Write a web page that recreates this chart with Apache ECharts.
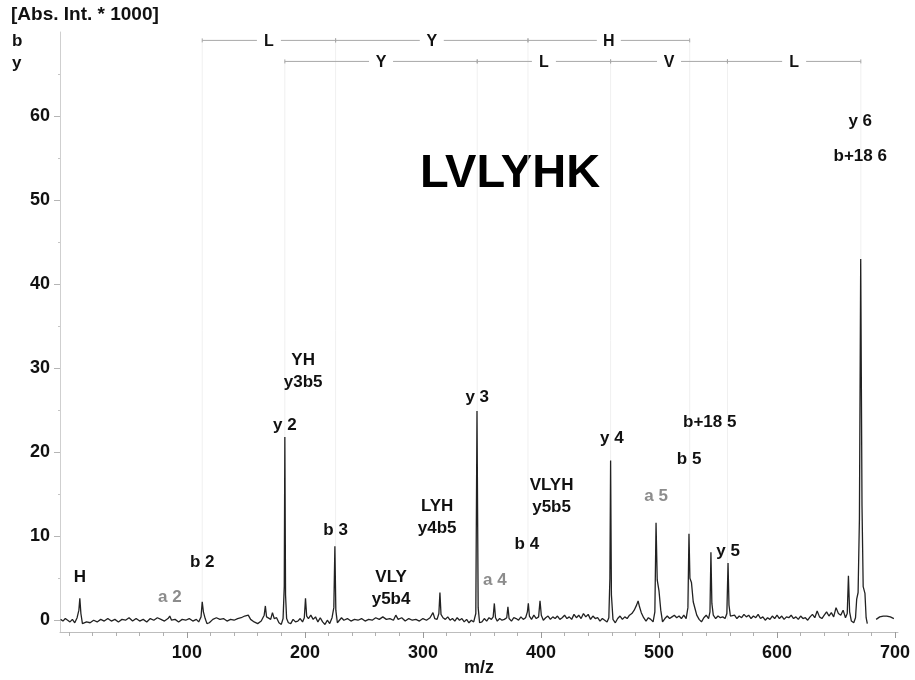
<!DOCTYPE html>
<html>
<head>
<meta charset="utf-8">
<script src="https://cdn.jsdelivr.net/npm/echarts@6/dist/echarts.min.js"></script>
<style>
  html, body { margin: 0; padding: 0; background: #fff; }
  #chart { width: 915px; height: 680px; }
</style>
</head>
<body>
<div id="chart"></div>
<script>
// MS/MS profile of LVLYHK: [m/z, intensity (x1000)]
const profile = [
  [-7,0.1],[-5,-0.1],[-3,0.2],[-1,0.0],[1,-0.2],[3,0.1],[5,-0.3],[7,0.3],[8.5,1.2],[9.3,2.6],[10.2,0.8],
  [11.5,-0.4],[13,-0.6],[15,-0.2],[18,-0.3],[21,0.0],[24,-0.2],[27,0.1],[30,-0.1],[33,0.2],[36,-0.1],
  [39,0.1],[42,-0.2],[45,0.1],[48,0.0],[51,0.3],[54,-0.1],[57,0.2],[60,-0.1],[63,0.1],[66,-0.2],[69,0.2],
  [72,0.0],[75,0.3],[78,0.1],[81,-0.1],[84,0.2],[85.5,0.5],[87,0.0],[90,0.1],[93,-0.2],[96,0.1],[99,0.0],
  [102,0.2],[105,-0.1],[108,0.1],[110,-0.2],[112,0.4],[113,2.2],[114,1.0],[115.5,0.2],[117,-0.4],[119,-0.3],
  [122,0.1],[125,0.3],[128,0.1],[131,0.2],[134,-0.1],[137,0.1],[140,0.0],[143,0.2],[146,0.3],[149,0.5],
  [152,0.6],[154,0.1],[157,-0.2],[160,-0.4],[163,-0.1],[165.5,0.6],[166.5,1.7],[167.5,0.4],[169,0.3],
  [171,0.1],[172.5,0.9],[174,0.2],[176,0.3],[178,-0.3],[180,-0.5],[181.5,0.2],[182.5,4.0],[183,21.8],
  [183.6,3.0],[184.5,0.2],[186,-0.3],[188,-0.4],[190,0.1],[192,-0.2],[194,-0.1],[196,0.2],[198,-0.2],
  [199.5,0.3],[200.5,2.6],[201.5,0.5],[203,0.2],[205,0.6],[207,0.1],[209,0.4],[211,-0.2],[213,0.3],
  [215,-0.2],[217,-0.5],[219,0.0],[221,-0.4],[223,0.3],[224.5,1.5],[225.4,8.8],[226.2,1.2],[227.5,-0.3],
  [229,-0.1],[231,0.3],[233,0.0],[236,0.2],[239,-0.1],[242,0.1],[245,0.0],[248,0.2],[251,-0.1],[254,0.1],
  [257,0.0],[260,0.3],[263,0.1],[266,0.4],[269,0.1],[272,0.2],[275,0.0],[277,0.6],[279,0.1],[282,0.3],
  [285,-0.1],[288,0.2],[291,0.0],[294,0.1],[297,-0.1],[300,0.2],[303,0.0],[306,0.3],[308.5,0.9],[310,0.2],
  [312,0.1],[313.5,0.8],[314.4,3.3],[315.3,0.7],[317,0.3],[319,0.1],[321,0.4],[323,0.0],[325,0.2],
  [327,-0.1],[329,0.3],[331,0.0],[333,0.2],[335,-0.2],[337,0.1],[339,-0.3],[341,0.0],[343,-0.2],
  [344.8,0.8],[345.8,24.9],[346.8,1.5],[348,-0.3],[350,-0.2],[352,0.2],[354,-0.1],[356,0.3],[358,0.1],
  [359.5,0.4],[360.5,2.0],[361.5,0.3],[363,-0.1],[365,0.2],[367,0.0],[369,0.1],[371,0.3],[372,1.6],
  [373,0.2],[375,-0.1],[377,0.3],[379,0.2],[381,0.0],[383,0.4],[385,0.1],[387,0.3],[388.5,1.0],
  [389.3,2.0],[390.2,0.5],[392,0.1],[394,0.6],[396,0.2],[398,0.4],[399.2,2.3],[400.3,0.6],[402,0.0],
  [404,0.3],[406,0.5],[408,0.1],[410,0.4],[412,0.2],[414,0.5],[416,0.1],[418,0.3],[420,0.6],[422,0.2],
  [424,0.4],[426,0.1],[428,0.7],[430,0.3],[432,0.6],[434,0.2],[436,0.8],[438,0.4],[440,0.7],[442,0.1],
  [444,0.5],[446,0.2],[448,0.3],[450,-0.1],[452,0.2],[454,0.0],[456,-0.2],[457.5,0.3],[458.4,5.0],
  [459,19.0],[459.7,3.0],[461,0.1],[463,-0.3],[465,0.2],[467,0.5],[469,0.1],[471,0.4],[473,0.2],[475,0.6],
  [477,0.8],[479,1.2],[481,1.8],[482.3,2.3],[483.5,1.6],[485,0.9],[487,0.3],[489,-0.1],[491,0.3],[493,0.1],
  [495,-0.2],[496.5,1.0],[497.5,11.6],[498.5,4.8],[500,3.5],[501.5,1.2],[503,-0.2],[505,0.2],[507,0.5],
  [509,0.2],[511,0.4],[513,0.6],[515,0.3],[517,0.5],[519,0.2],[521,0.6],[523,0.2],[524.5,1.5],
  [525.4,10.3],[526.2,5.0],[527.5,4.5],[529,2.2],[530.5,1.4],[532,0.6],[534,0.1],[536,-0.2],[538,0.3],
  [540,0.6],[542,0.2],[543.2,1.0],[544,8.1],[544.8,2.0],[546,0.6],[548,0.2],[550,0.5],[552,0.3],[554,0.4],
  [556,0.2],[557.5,0.8],[558.5,6.8],[559.3,1.8],[560.5,0.5],[562,0.3],[564,0.6],[566,0.2],[568,0.5],
  [570,0.3],[572,0.7],[574,0.4],[576,0.6],[578,0.2],[580,0.5],[582,0.3],[584,0.7],[586,0.2],[588,0.4],
  [590,0.0],[592,0.3],[594,0.1],[596,0.5],[598,0.2],[600,0.6],[602,0.2],[604,0.5],[606,0.1],[608,0.4],
  [610,0.3],[612,0.6],[614,0.2],[616,0.4],[618,0.1],[620,0.5],[622,0.2],[624,0.3],[626,0.0],[628,0.4],
  [630,0.7],[632,0.3],[634,1.1],[636,0.4],[638,0.2],[640,0.6],[642,1.0],[644,0.5],[646,0.9],[648,0.4],
  [650,1.5],[652,0.8],[654,0.6],[656,1.2],[658,0.3],[659.5,0.8],[660.5,5.3],[661.5,1.0],[663,-0.1],
  [665,-0.3],[666.5,0.3],[667.5,2.5],[668.7,3.3],[669.8,12.0],[670.9,43.0],[672,13.7],[673,4.0],
  [674.5,3.2],[675.5,0.3],[676.5,-0.4],[677.5,null],
  [684,0.1],[687,0.4],[690,0.5],[693,0.5],[696,0.4],[699,0.2]
];

// Sequence ladders (m/z of fragment ions and residues between them)
const bIons = [113, 226, 389, 526];
const bResidues = ['L', 'Y', 'H'];
const yIons = [183, 346, 459, 558, 671];
const yResidues = ['Y', 'L', 'V', 'L'];

// Peak annotations: [text, m/z, intensity anchor, grey?]
const peakLabels = [
  ['H', 9.3, 5.1, false],
  ['a 2', 85.5, 2.7, true],
  ['b 2', 113, 6.9, false],
  ['YH\ny3b5', 198.5, 29.6, false],
  ['y 2', 183, 23.2, false],
  ['b 3', 226, 10.7, false],
  ['VLY\ny5b4', 273, 3.8, false],
  ['LYH\ny4b5', 312, 12.3, false],
  ['y 3', 346, 26.5, false],
  ['a 4', 361, 4.8, true],
  ['b 4', 388, 9.0, false],
  ['VLYH\ny5b5', 409, 14.7, false],
  ['y 4', 460, 21.6, false],
  ['a 5', 497.5, 14.7, true],
  ['b+18 5', 543, 23.5, false],
  ['b 5', 525.5, 19.2, false],
  ['y 5', 558.5, 8.2, false],
  ['y 6', 670.5, 59.4, false],
  ['b+18 6', 670.5, 55.2, false]
];

const xTickLabels = [100, 200, 300, 400, 500, 600, 700];
const xMinorTicks = [0,20,40,60,80,120,140,160,180,220,240,260,280,320,340,360,380,420,440,460,480,520,540,560,580,620,640,660,680];
const yTickLabels = [0, 10, 20, 30, 40, 50, 60];
const yMinorTicks = [5, 15, 25, 35, 45, 55, 65];

const FONT = '"Liberation Sans", Arial, Helvetica, sans-serif';
const LADDER_LEVEL = { b: 69.0, y: 66.5 };

const chart = echarts.init(document.getElementById('chart'), null, { renderer: 'canvas' });

function ladderSeries(ions, residues, level) {
  const segs = [];
  for (let i = 0; i < residues.length; i++) segs.push([ions[i], ions[i + 1], level]);
  return {
    type: 'custom',
    xAxisIndex: 0, yAxisIndex: 0,
    silent: true,
    animation: false,
    z: 5,
    encode: { x: [0, 1], y: 2 },
    data: segs,
    renderItem: function (params, api) {
      const p1 = api.coord([api.value(0), api.value(2)]);
      const p2 = api.coord([api.value(1), api.value(2)]);
      const mid = (p1[0] + p2[0]) / 2;
      const gap = 12;
      const stroke = { stroke: '#a8a8a8', lineWidth: 1 };
      return {
        type: 'group',
        children: [
          { type: 'line', shape: { x1: p1[0], y1: p1[1], x2: mid - gap, y2: p1[1] }, style: stroke },
          { type: 'line', shape: { x1: mid + gap, y1: p1[1], x2: p2[0], y2: p1[1] }, style: stroke },
          { type: 'line', shape: { x1: p1[0], y1: p1[1] - 2, x2: p1[0], y2: p1[1] + 2 }, style: stroke },
          { type: 'line', shape: { x1: p2[0], y1: p2[1] - 2, x2: p2[0], y2: p2[1] + 2 }, style: stroke },
          {
            type: 'text', x: mid, y: p1[1] + 1,
            style: {
              text: residues[params.dataIndex], align: 'center', verticalAlign: 'middle',
              font: 'bold 16px ' + FONT, fill: '#111'
            }
          }
        ]
      };
    }
  };
}

// faint guides dropping from each ladder node
function guideSeries(ions, level) {
  return {
    type: 'custom',
    silent: true,
    animation: false,
    z: 1,
    data: ions.map(function (m) { return [m, level]; }),
    renderItem: function (params, api) {
      const top = api.coord([api.value(0), api.value(1)]);
      const bottom = api.coord([api.value(0), 0]);
      return {
        type: 'line',
        shape: { x1: top[0], y1: top[1], x2: bottom[0], y2: bottom[1] },
        style: { stroke: '#f0f0f0', lineWidth: 1 }
      };
    }
  };
}

const option = {
  backgroundColor: '#ffffff',
  animation: false,
  grid: { left: 60, right: 17, top: 32, bottom: 48, outerBoundsMode: 'none' },
  xAxis: [
    {
      type: 'value', min: -7.5, max: 702.5,
      name: 'm/z', nameLocation: 'middle', nameGap: 27, nameMoveOverlap: false,
      nameTextStyle: { fontFamily: FONT, fontWeight: 'bold', fontSize: 18, color: '#111', verticalAlign: 'top' },
      axisLine: { show: true, onZero: false, lineStyle: { color: '#bdbdbd', width: 1 } },
      axisTick: { show: true, customValues: xTickLabels, length: 6, lineStyle: { color: '#9a9a9a' } },
      axisLabel: { customValues: xTickLabels, margin: 12, fontFamily: FONT, fontWeight: 'bold', fontSize: 18, color: '#111' },
      splitLine: { show: false }
    },
    {
      type: 'value', min: -7.5, max: 702.5, position: 'bottom',
      axisLine: { show: false, onZero: false },
      axisTick: { show: true, customValues: xMinorTicks, length: 4, lineStyle: { color: '#b0b0b0' } },
      axisLabel: { show: false },
      splitLine: { show: false }
    }
  ],
  yAxis: [
    {
      type: 'value', min: -1.4, max: 70,
      axisLine: { show: true, onZero: false, lineStyle: { color: '#cfcfcf', width: 1 } },
      axisTick: { show: true, customValues: yTickLabels, length: 6, lineStyle: { color: '#b5b5b5' } },
      axisLabel: { customValues: yTickLabels, margin: 10, fontFamily: FONT, fontWeight: 'bold', fontSize: 18, color: '#111' },
      splitLine: { show: false }
    },
    {
      type: 'value', min: -1.4, max: 70, position: 'left',
      axisLine: { show: false, onZero: false },
      axisTick: { show: true, customValues: yMinorTicks, length: 2, lineStyle: { color: '#c5c5c5' } },
      axisLabel: { show: false },
      splitLine: { show: false }
    }
  ],
  graphic: [
    { type: 'text', x: 11, y: 15, style: { text: '[Abs. Int. * 1000]', font: 'bold 19px ' + FONT, fill: '#111', verticalAlign: 'middle' } },
    { type: 'text', x: 12, y: 41, style: { text: 'b', font: 'bold 17px ' + FONT, fill: '#111', verticalAlign: 'middle' } },
    { type: 'text', x: 12, y: 63, style: { text: 'y', font: 'bold 17px ' + FONT, fill: '#111', verticalAlign: 'middle' } },
    { type: 'text', x: 510, y: 174, style: { text: 'LVLYHK', font: 'bold 47px ' + FONT, fill: '#000', align: 'center', verticalAlign: 'middle' } }
  ],
  series: [
    guideSeries(bIons, LADDER_LEVEL.b),
    guideSeries(yIons, LADDER_LEVEL.y),
    {
      type: 'line',
      name: 'LVLYHK',
      data: profile,
      showSymbol: false,
      symbol: 'none',
      connectNulls: false,
      silent: true,
      z: 3,
      lineStyle: { color: '#222222', width: 1.3 }
    },
    ladderSeries(bIons, bResidues, LADDER_LEVEL.b),
    ladderSeries(yIons, yResidues, LADDER_LEVEL.y),
    {
      type: 'custom',
      silent: true,
      animation: false,
      z: 6,
      data: peakLabels.map(function (l) { return [l[1], l[2]]; }),
      renderItem: function (params, api) {
        const p = api.coord([api.value(0), api.value(1)]);
        const item = peakLabels[params.dataIndex];
        return {
          type: 'text', x: p[0], y: p[1],
          style: {
            text: item[0], align: 'center', verticalAlign: 'middle',
            font: 'bold 17px ' + FONT, lineHeight: 22,
            fill: item[3] ? '#8c8c8c' : '#111'
          }
        };
      }
    }
  ]
};

chart.setOption(option);
</script>
</body>
</html>
